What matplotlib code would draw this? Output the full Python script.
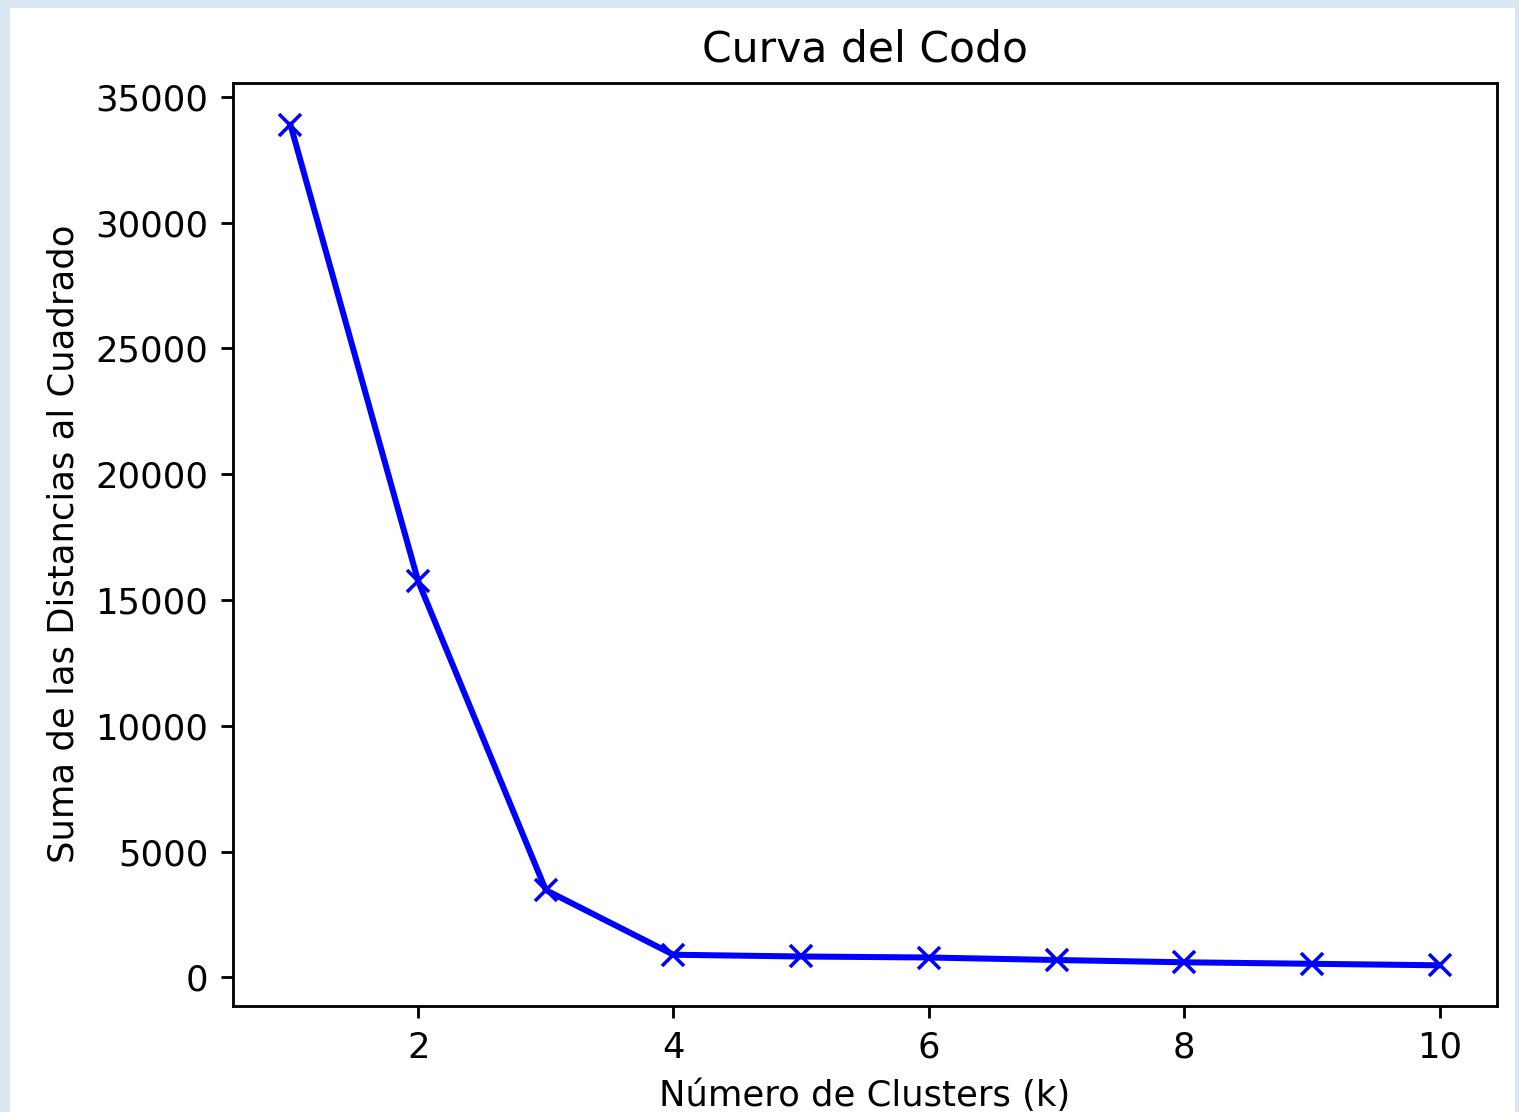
import matplotlib
matplotlib.use('Agg')
import matplotlib.pyplot as plt
import matplotlib.patches as mpatches

# Elbow curve data
k_values = [1, 2, 3, 4, 5, 6, 7, 8, 9, 10]
inertia = [33890, 15750, 3470, 900, 830, 790, 690, 600, 540, 480]

DPI = 255
fig = plt.figure(figsize=(1519 / DPI, 1112 / DPI), dpi=DPI)
fig.patch.set_facecolor('#d9e7f3')

# white card behind the chart, with the bluish border around it
card = mpatches.Rectangle((10 / 1519, 0), 1 - 14 / 1519, 1 - 8 / 1112,
                          transform=fig.transFigure, facecolor='white',
                          edgecolor='none', zorder=-1)
fig.patches.append(card)

ax = fig.add_axes([0.1534, 0.0955, 0.8321, 0.8303])
ax.plot(k_values, inertia, 'bx-', linewidth=1.7)
ax.set_ylim(-1130, 35570)
ax.set_xlabel('Número de Clusters (k)')
ax.set_ylabel('Suma de las Distancias al Cuadrado')
ax.set_title('Curva del Codo')

fig.savefig('out.png', dpi=DPI, facecolor=fig.get_facecolor())
